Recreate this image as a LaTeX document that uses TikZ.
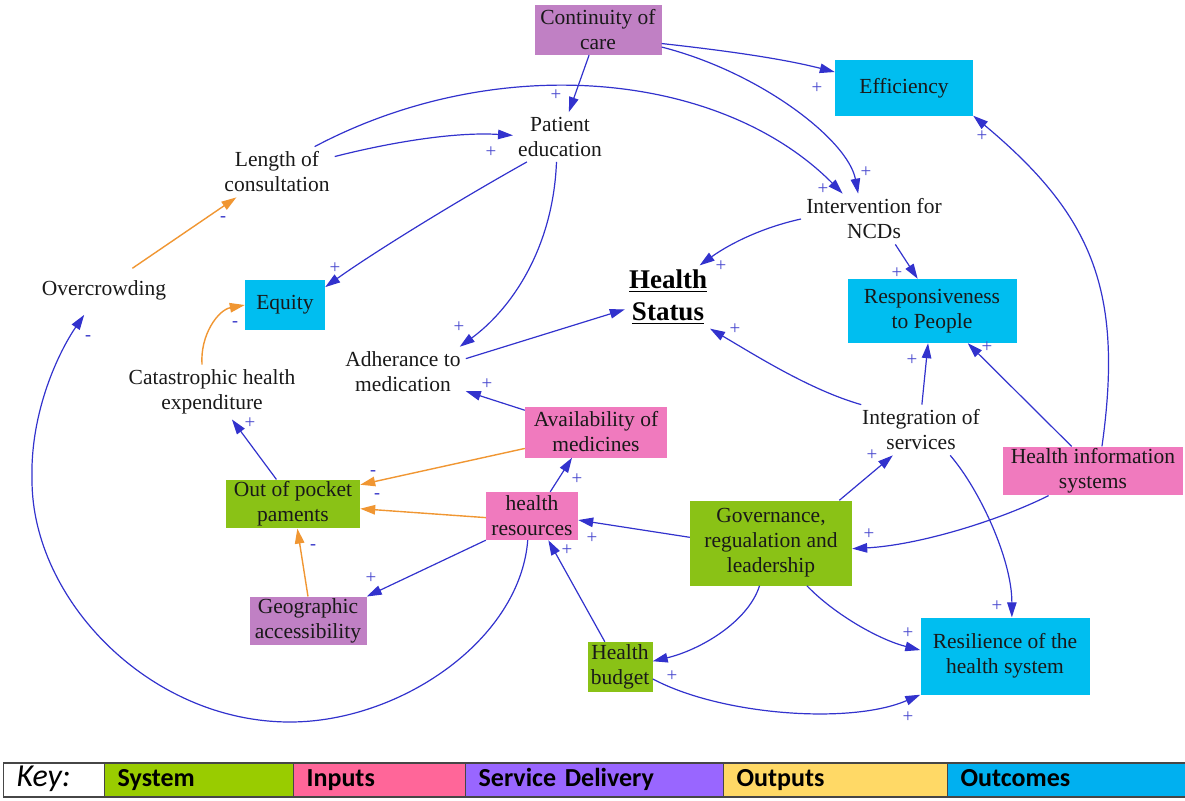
\documentclass[tikz,border=0pt]{standalone}
\usepackage{fontspec}
\setmainfont{Liberation Serif}
\newfontfamily\keyfont{Carlito}
\usetikzlibrary{arrows.meta}

\definecolor{linkblue}{RGB}{50,50,205}
\definecolor{linkorange}{RGB}{240,150,50}
\definecolor{signblue}{RGB}{70,70,205}
\definecolor{boxgreen}{RGB}{138,194,22}
\definecolor{boxpink}{RGB}{240,122,190}
\definecolor{boxpurple}{RGB}{192,128,196}
\definecolor{boxcyan}{RGB}{0,190,240}
\definecolor{keygreen}{RGB}{153,204,0}
\definecolor{keypink}{RGB}{255,102,153}
\definecolor{keyviolet}{RGB}{153,102,255}
\definecolor{keyyellow}{RGB}{255,217,102}
\definecolor{keycyan}{RGB}{0,176,240}
\definecolor{keyline}{RGB}{70,70,70}

% underlined heading line with a heavy rule
\newcommand\hsline[1]{\vtop{\hbox{#1}\kern2pt\hrule height 1.8pt}}

\tikzset{
  var/.style={align=center, inner sep=5pt, text=black!90,
              font=\fontsize{21.5}{25}\selectfont},
  sbox/.style={var, inner sep=2pt},
  link/.style={draw=linkblue, line width=1.2pt,
               -{Triangle[length=15pt,width=9.5pt]}},
  neglink/.style={link, draw=linkorange, line width=1.4pt},
  pol/.style={text=signblue, inner sep=0pt,
              font=\fontsize{19}{19}\selectfont},
  neg/.style={text=signblue, inner sep=0pt,
              font=\fontsize{18}{18}\selectfont\bfseries},
  keycell/.style={draw=keyline, line width=1.3pt, anchor=west,
                  minimum height=34pt, inner xsep=13pt, inner ysep=0pt,
                  text height=17pt, text depth=5pt,
                  align=left, text=black,
                  font=\keyfont\bfseries\fontsize{26}{26}\selectfont},
}

\begin{document}
\begin{tikzpicture}[x=1pt,y=-1pt]
\useasboundingbox (0,0) rectangle (1185,800);

% ---------- variables ----------
\node[sbox, fill=boxpurple, minimum width=127, minimum height=50] (coc) at (598,30) {Continuity of\\care};
\node[sbox, fill=boxcyan, minimum width=138, minimum height=55] (eff) at (904,88) {Efficiency};
\node[var] (pe) at (560,137) {Patient\\education};
\node[var] (loc) at (277,172) {Length of\\consultation};
\node[var] (ncd) at (874,219) {Intervention for\\NCDs};
\node[var] (ovc) at (104,290) {Overcrowding};
\node[sbox, fill=boxcyan, minimum width=80, minimum height=50] (eq) at (285,305) {Equity};
\node[align=center, inner sep=4pt, text=black,
      font=\fontsize{27}{32}\selectfont\bfseries] (hs) at (668,297) {\hsline{Health}\\\hsline{Status}};
\node[sbox, fill=boxcyan, minimum width=169, minimum height=64] (resp) at (932,311) {Responsiveness\\to People};
\node[var] (adh) at (403,372) {Adherance to\\medication};
\node[var] (che) at (212,392) {Catastrophic health\\expenditure};
\node[sbox, fill=boxpink, minimum width=142, minimum height=51] (avm) at (596,432) {Availability of\\medicines};
\node[var] (ios) at (921,430) {Integration of\\services};
\node[sbox, fill=boxpink, minimum width=180, minimum height=48] (his) at (1093,471) {Health information\\systems};
\node[sbox, fill=boxgreen, minimum width=134, minimum height=48] (oop) at (293,504) {Out of pocket\\paments};
\node[sbox, fill=boxpink, minimum width=92, minimum height=48] (hr) at (532,516) {health\\resources};
\node[sbox, fill=boxgreen, minimum width=162, minimum height=85] (gov) at (771,543) {Governance,\\regualation and\\leadership};
\node[sbox, fill=boxpurple, minimum width=117, minimum height=48] (geo) at (308,621) {Geographic\\accessibility};
\node[sbox, fill=boxgreen, minimum width=65, minimum height=50] (hb) at (620,667) {Health\\budget};
\node[sbox, fill=boxcyan, minimum width=169, minimum height=77] (res) at (1005,656) {Resilience of the\\health system};

% ---------- waypoints of the long feedback loop ----------
\coordinate (loopA) at (290,722);
\coordinate (loopB) at (32,480);

% ---------- causal links ----------
\draw[link] (coc) -- (pe);
\draw[link] (coc.-12) .. controls (720,50) and (780,58) .. (eff.167);
\draw[link] (coc.-15) .. controls (760,72) and (848,140) .. (ncd.122);
\draw[link] (loc.15) .. controls (400,140) and (460,132) .. (pe.178);
\draw[link] (loc.34) .. controls (497,50) and (721,71) .. (ncd.141);
\draw[link] (pe.217) .. controls (450,205) and (370,255) .. (eq.24);
\draw[link] (pe.262) .. controls (553,250) and (510,310) .. (adh.24);
\draw[link] (ncd.west) .. controls (760,228) and (728,245) .. (hs.45);
\draw[link] (ncd.-50) -- (resp.114);
\draw[neglink, shorten <=12pt] (ovc.39) -- (loc.212);
\draw[neglink] (che.110) .. controls (200,335) and (218,310) .. (eq.west);
\draw[link] (adh.12) -- (hs.196);
\draw[link] (avm.163) -- (adh.-17);
\draw[link] (ios.157) .. controls (810,390) and (755,355) .. (hs.-37);
\draw[link] (ios.88) -- (resp.-97);
\draw[link] (his.131) -- (resp.-42);
\draw[link] (his.70) .. controls (1124,290) and (1092,215) .. (eff.south east);
\draw[link] (his.209) .. controls (1000,520) and (920,545) .. (gov.-4);
\draw[link] (gov.32) -- (ios.222);
\draw[link] (ios.-41) .. controls (980,490) and (1012,560) .. (res.80);
\draw[link] (gov.176) -- (hr.-5);
\draw[link] (gov.-105) .. controls (748,622) and (700,650) .. (hb.10);
\draw[link] (gov.-50) .. controls (835,615) and (880,640) .. (res.176);
\draw[link] (hb.-20) .. controls (720,715) and (850,725) .. (res.south west);
\draw[link] (hb.121) -- (hr.-56);
\draw[link] (hr.53) -- (avm.-133);
\draw[link] (hr.south west) -- (geo.north east);
\draw[link, shorten >=12pt] (hr.-100) .. controls (520,640) and (400,722) .. (loopA)
      .. controls (150,722) and (32,600) .. (loopB)
      .. controls (30,410) and (60,350) .. (ovc.229);
\draw[neglink] (avm.193) -- (oop.16);
\draw[neglink] (hr.182) -- (oop.-4);
\draw[neglink] (geo.north) -- (oop.-80);
\draw[link] (oop.124) -- (che.-54);

% ---------- polarities ----------
\node[pol] (p1) at (556,95) {+};
\node[pol] (p2) at (817,88) {+};
\node[pol] (p3) at (866,172) {+};
\node[pol] (p4) at (823,189) {+};
\node[pol] (p5) at (491,152) {+};
\node[pol] (p6) at (335,268) {+};
\node[pol] (p7) at (459,327) {+};
\node[pol] (p8) at (721,266) {+};
\node[pol] (p9) at (897,273) {+};
\node[neg] (p10) at (223,219) {-};
\node[neg] (p11) at (235,324) {-};
\node[pol] (p13) at (487,384) {+};
\node[pol] (p14) at (735,329) {+};
\node[pol] (p15) at (912,360) {+};
\node[pol] (p16) at (987,347) {+};
\node[pol] (p17) at (982,136) {+};
\node[pol] (p18) at (869,534) {+};
\node[pol] (p19) at (872,455) {+};
\node[pol] (p20) at (997,606) {+};
\node[pol] (p21) at (592,538) {+};
\node[pol] (p22) at (672,676) {+};
\node[pol] (p23) at (908,633) {+};
\node[pol] (p24) at (908,717) {+};
\node[pol] (p25) at (567,550) {+};
\node[pol] (p26) at (577,479) {+};
\node[pol] (p27) at (371,578) {+};
\node[neg] (p28) at (88,338) {-};
\node[neg] (p29) at (373,473) {-};
\node[neg] (p30) at (377,496) {-};
\node[neg] (p31) at (313,547) {-};
\node[pol] (p32) at (250,423) {+};

% ---------- key ----------
\node[keycell, minimum width=101, text width=75, inner xsep=9pt,
      font=\keyfont\itshape\fontsize{32}{32}\selectfont] (kkey) at (3,780) {Key:};
\node[keycell, fill=keygreen, minimum width=189, text width=163] (ksys) at (104,780) {System};
\node[keycell, fill=keypink, minimum width=172, text width=146] (kin) at (293,780) {Inputs};
\node[keycell, fill=keyviolet, minimum width=258, text width=232] (ksd) at (465,780) {Service Delivery};
\node[keycell, fill=keyyellow, minimum width=224, text width=198] (kout) at (723,780) {Outputs};
\node[keycell, fill=keycyan, minimum width=240, text width=214] (kocm) at (947,780) {Outcomes};
\end{tikzpicture}
\end{document}
